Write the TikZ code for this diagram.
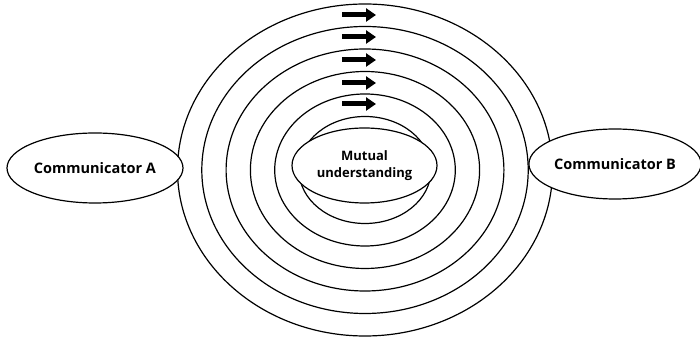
\documentclass[tikz,border=0pt]{standalone}
\usepackage{fontspec}
\setmainfont{Open Sans}
\usepackage{tikz}
\usetikzlibrary{arrows.meta,shapes.geometric}

\begin{document}
\begin{tikzpicture}[
    x=1pt, y=1pt,
    ring/.style={draw, line width=1.2pt},
    party/.style={ellipse, draw, line width=1.2pt, fill=white, inner sep=0pt,
                  minimum width=170pt, minimum height=70pt, font=\bfseries\fontsize{14.5}{17}\selectfont},
    core/.style={ellipse, draw, line width=1.2pt, fill=white, inner sep=0pt, align=center,
                 minimum width=145pt, minimum height=75pt, font=\bfseries\fontsize{13}{17}\selectfont},
    arr/.style={line width=5pt, -{Triangle[length=10pt, width=13pt]}}
]
\useasboundingbox (0,0) rectangle (700,339);

% the six rings
\foreach \i in {0,...,5}
    \draw[ring] (365,169) ellipse [x radius={187.5-24.3*\i}, y radius={166-22.5*\i}];

\node[core] (mutual) at (364.5,173.5) {Mutual\\understanding};
\node[party, minimum width=176pt] (commA) at (95,171) {Communicator A};
\node[party, minimum width=166pt] (commB) at (615,175) {Communicator B};

% arrows between the rings
\foreach \y in {324,302,279,256,235}
    \draw[arr] (342,\y) -- (376,\y);
\end{tikzpicture}
\end{document}
